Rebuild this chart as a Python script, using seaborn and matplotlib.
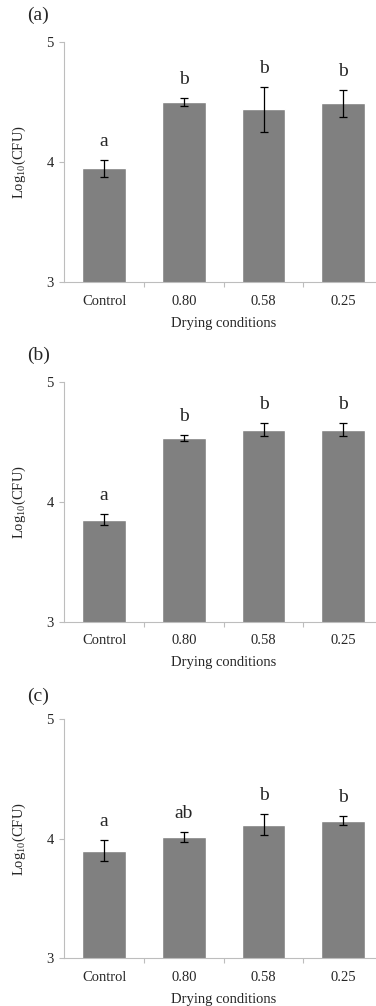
import matplotlib
matplotlib.use("Agg")
import matplotlib.pyplot as plt
import seaborn as sns
import pandas as pd
import numpy as np

categories = ["Control", "0.80", "0.58", "0.25"]
panel_labels = ["(a)", "(b)", "(c)"]

means_a = [3.95, 4.50, 4.44, 4.49]
errs_a = [0.07, 0.035, 0.19, 0.115]
letters_a = ["a", "b", "b", "b"]

means_b = [3.85, 4.53, 4.60, 4.60]
errs_b = [0.045, 0.025, 0.055, 0.055]
letters_b = ["a", "b", "b", "b"]

means_c = [3.90, 4.015, 4.117, 4.15]
errs_c = [0.09, 0.04, 0.09, 0.04]
letters_c = ["a", "ab", "b", "b"]

yticks = [3, 4, 5]
xlabel = "Drying conditions"
ylabel = r"Log$_{10}$(CFU)"

sns.set_style("white")
plt.rcParams["font.family"] = ["Liberation Serif", "DejaVu Serif"]
plt.rcParams["mathtext.fontset"] = "custom"
plt.rcParams["mathtext.rm"] = "Liberation Serif"
plt.rcParams["mathtext.it"] = "Liberation Serif"
plt.rcParams["mathtext.default"] = "regular"

fig = plt.figure(figsize=(3.76, 10.06), dpi=100)

panels = [
    (means_a, errs_a, letters_a, 0.7194, 0.2386, 15),
    (means_b, errs_b, letters_b, 0.3820, 0.2386, 355),
    (means_c, errs_c, letters_c, 0.0474, 0.2379, 696),
]

axis_color = "#bdbdbd"
for i, (means, errs, letters, bottom, height, label_y) in enumerate(panels):
    ax = fig.add_axes([0.171, bottom, 0.848, height])
    df = pd.DataFrame({"cond": categories, "val": means})
    sns.barplot(data=df, x="cond", y="val", ax=ax, color="#808080",
                saturation=1, width=0.55, errorbar=None, order=categories)
    xs = np.arange(len(categories))
    ax.errorbar(xs, means, yerr=errs, fmt="none", ecolor="black",
                elinewidth=0.9, capsize=3, capthick=0.9)
    for x, m, e, t in zip(xs, means, errs, letters):
        ax.text(x, m + e + 0.115, t, ha="center", va="baseline", fontsize=14)
    ax.set_ylim(3, 5)
    ax.set_xlim(-0.5, 3.5)
    ax.set_yticks(yticks)
    ax.set_yticklabels([str(v) for v in yticks], fontsize=10.5)
    ax.set_xticks(xs)
    ax.set_xticklabels(categories, fontsize=10.5)
    ax.tick_params(axis="x", length=0, pad=9)
    ax.tick_params(axis="y", length=3.6, color=axis_color, width=0.8, pad=4, direction="out", left=True)
    ax.set_xticks([0.5, 1.5, 2.5], minor=True)
    ax.tick_params(axis="x", which="minor", length=3.6, color=axis_color, width=0.8, direction="out", bottom=True)
    ax.set_xlabel(xlabel, fontsize=10.5, labelpad=6.5)
    ax.set_ylabel(ylabel, fontsize=10.5, labelpad=13)
    for s in ["top", "right"]:
        ax.spines[s].set_visible(False)
    for s in ["left", "bottom"]:
        ax.spines[s].set_color(axis_color)
        ax.spines[s].set_linewidth(0.8)
    fig.text(27 / 376, 1 - label_y / 1006, panel_labels[i], fontsize=14,
             ha="left", va="center")

fig.savefig("out.png", dpi=100)
